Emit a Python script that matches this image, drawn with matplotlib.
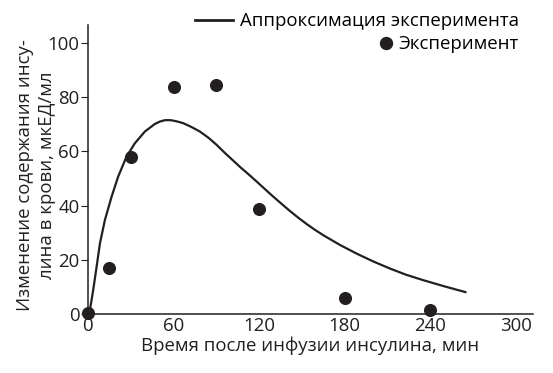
import matplotlib
matplotlib.use("Agg")
import matplotlib.pyplot as plt
from matplotlib.lines import Line2D

# experimental points (min, mcU/ml)
exp_t = [0, 15, 30, 60, 90, 120, 180, 240]
exp_v = [0.4, 17, 58, 83.6, 84.4, 38.6, 5.8, 1.5]

# approximation curve
fit_t = [0, 1.4, 3.7, 6.1, 8.4, 11.9, 16.6, 21.2, 27, 32.9, 39.9, 46.9,
         50.5, 54, 58, 62, 66.8, 72.5, 78.5, 84.5, 90.2, 96, 101.8, 106.5,
         112, 118.2, 124, 129.9, 135.8, 141.6, 147.5, 153.3, 159, 164.9,
         176.6, 188.3, 200, 211.6, 223, 235, 250, 265.3]
fit_v = [0, 1.5, 8.9, 17.5, 26, 34.7, 43.3, 50.7, 58, 63, 67.3, 70.1,
         71.0, 71.5, 71.5, 71.1, 70.4, 69.0, 67.3, 65.0, 62.4, 59.4, 56.6,
         54.3, 51.8, 48.9, 46.1, 43.3, 40.6, 38.0, 35.5, 33.2, 31.1, 29.1,
         25.5, 22.3, 19.4, 16.8, 14.5, 12.5, 10.2, 8.0]

xticks = [0, 60, 120, 180, 240, 300]
yticks = [0, 20, 40, 60, 80, 100]

INK = "#231f20"
FS = 13.4
plt.rcParams["font.family"] = ["Open Sans", "DejaVu Sans"]

fig = plt.figure(figsize=(5.53, 3.73), dpi=100)
ax = fig.add_axes([0.159, 0.158, 0.805, 0.775])

ax.plot(fit_t, fit_v, color=INK, linewidth=1.6, clip_on=False,
        solid_joinstyle="round", solid_capstyle="butt")
ax.plot(exp_t, exp_v, "o", color=INK, markersize=8.4, clip_on=False)

ax.set_xlim(0, 312)
ax.set_ylim(0, 106.6)
ax.set_xticks(xticks)
ax.set_yticks(yticks)
ax.tick_params(labelsize=FS, colors=INK)
ax.tick_params(axis="y", length=5, width=0.8, pad=1)
ax.tick_params(axis="x", length=0, pad=2)
for side in ("top", "right"):
    ax.spines[side].set_visible(False)
for side in ("left", "bottom"):
    ax.spines[side].set_linewidth(1.1)
    ax.spines[side].set_color(INK)

ax.set_xlabel("Время после инфузии инсулина, мин", fontsize=FS, color=INK, labelpad=1)
ax.set_ylabel("Изменение содержания инсу-\nлина в крови, мкЕД/мл", fontsize=FS,
              color=INK, linespacing=1.3)
ax.yaxis.set_label_coords(-0.072, 0.48)

line_h = Line2D([], [], color=INK, linewidth=2)
dot_h = Line2D([], [], color=INK, marker="o", linestyle="none", markersize=8.6)
leg1 = ax.legend([line_h], ["Аппроксимация эксперимента"], loc="upper right",
                 bbox_to_anchor=(0.985, 1.07), frameon=False, fontsize=FS,
                 handlelength=2.0, handletextpad=0.4, borderaxespad=0)
ax.add_artist(leg1)
ax.legend([dot_h], ["Эксперимент"], loc="upper right",
          bbox_to_anchor=(0.985, 0.99), frameon=False, fontsize=FS,
          handlelength=1.0, handletextpad=0.2, borderaxespad=0)

fig.savefig("out.png", dpi=100)
